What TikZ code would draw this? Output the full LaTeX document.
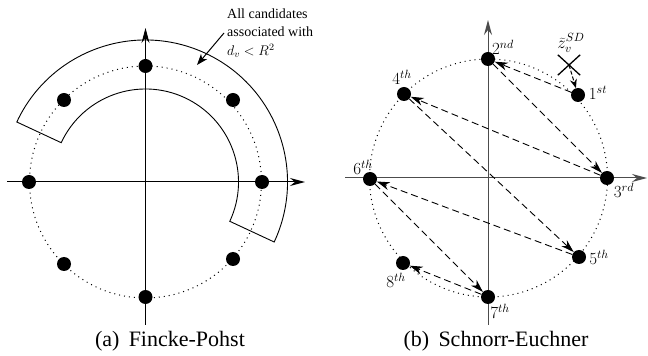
\documentclass[tikz,border=0pt]{standalone}
\usepackage{fix-cm}
\usepackage{fontspec}
\setmainfont{Liberation Serif}
\usetikzlibrary{arrows.meta}
\begin{document}
\begin{tikzpicture}[x=1pt,y=1pt,
  dot/.style={circle,fill=black,inner sep=0pt,minimum size=14pt},
  axis/.style={line width=1pt,-{Stealth[length=15pt,width=8pt,inset=5pt]}},
  raxis/.style={axis,black!70},
  ring/.style={line width=1pt,dash pattern=on 1pt off 4pt},
  band/.style={line width=0.9pt},
  hop/.style={line width=0.9pt,dash pattern=on 7pt off 4pt,-{Stealth[length=13pt,width=8pt,inset=4pt]}},
  lbl/.style={font=\fontsize{17}{20}\selectfont,inner sep=0pt},
  captxt/.style={font=\fontsize{22}{26}\selectfont,inner sep=0pt},
  notetxt/.style={font=\fontsize{14}{18.5}\selectfont,align=left,inner sep=0pt}
]
\useasboundingbox (0,0) rectangle (648,356);
% ---------- (a) Fincke-Pohst ----------
\coordinate (c1) at (145.5,174);
\draw[ring] (c1) circle[radius=116];
\coordinate (axL) at (7,174);
\coordinate (axR) at (305,174);
\coordinate (axB) at (145.5,31);
\coordinate (axT) at (145.5,328);
\draw[axis] (axL) -- (axR);
\draw[axis] (axB) -- (axT);
\draw[band,shift={(145.5,174)}] (155:142) arc[start angle=155,end angle=-25,radius=142]
  -- (-25:93) arc[start angle=-25,end angle=155,radius=93] -- cycle;
\node[dot] (a1) at (145.5,290) {};
\node[dot] (a2) at (233,256) {};
\node[dot] (a3) at (262,174) {};
\node[dot] (a4) at (233,97) {};
\node[dot] (a5) at (145.5,59) {};
\node[dot] (a6) at (64,92) {};
\node[dot] (a7) at (29,174) {};
\node[dot] (a8) at (64,256) {};
\node[notetxt,anchor=west] (nt) at (227,323) {All candidates\\associated with\\$d_v<R^2$};
\coordinate (ntip) at (197,291);
\draw[line width=1pt,-{Stealth[length=11pt,width=8pt,inset=3pt]}] ([xshift=-3pt]nt.west) -- (ntip);
\node[captxt] (capa) at (170,15) {(a)\hspace{0.42em}Fincke-Pohst};
% ---------- (b) Schnorr-Euchner ----------
\coordinate (c2) at (488.5,178);
\draw[ring] (c2) circle[radius=119];
\coordinate (bxL) at (345,178);
\coordinate (bxR) at (647,178);
\coordinate (bxB) at (488,31);
\coordinate (bxT) at (488,336);
\draw[raxis] (bxL) -- (bxR);
\draw[raxis] (bxB) -- (bxT);
\node[dot] (b1) at (578,261) {};
\node[dot] (b2) at (488,297) {};
\node[dot] (b3) at (607,178) {};
\node[dot] (b4) at (404,262) {};
\node[dot] (b5) at (579,99) {};
\node[dot] (b6) at (370,177) {};
\node[dot] (b7) at (488,59) {};
\node[dot] (b8) at (403,93) {};
\draw[hop] (b1) -- (b2);
\draw[hop] (b2) -- (b3);
\draw[hop] (b3) -- (b4);
\draw[hop] (b4) -- (b5);
\draw[hop] (b5) -- (b6);
\draw[hop] (b6) -- (b7);
\draw[hop] (b7) -- (b8);
\node[lbl] (l1) at (598,263) {$1^{st}$};
\node[lbl] (l2) at (503,309) {$2^{nd}$};
\node[lbl] (l3) at (624,166) {$3^{rd}$};
\node[lbl] (l4) at (402,279) {$4^{th}$};
\node[lbl] (l5) at (599,99) {$5^{th}$};
\node[lbl] (l6) at (363,189) {$6^{th}$};
\node[lbl] (l7) at (500,45) {$7^{th}$};
\node[lbl] (l8) at (396,76) {$8^{th}$};
\node[lbl] (zl) at (571,313) {$\widetilde{z}_v^{SD}$};
\node[inner sep=0pt,minimum width=22pt,minimum height=20pt] (zx) at (569,291) {};
\draw[line width=1.3pt] (zx.north west) -- (zx.south east);
\draw[line width=1.3pt] (zx.south west) -- (zx.north east);
\draw[line width=1pt,dash pattern=on 4pt off 2pt,-{Stealth[length=9pt,width=7pt,inset=3pt]}] (zx.center) -- (b1);
\node[captxt] (capb) at (496,15) {(b)\hspace{0.42em}Schnorr-Euchner};
\end{tikzpicture}
\end{document}
